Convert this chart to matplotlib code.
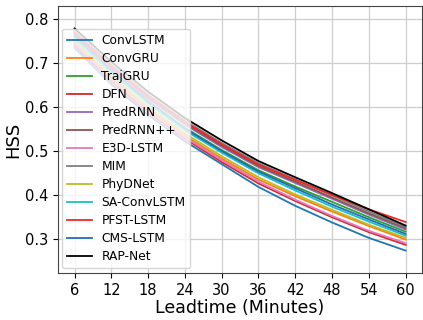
import matplotlib
matplotlib.use("Agg")
from matplotlib import pyplot as plt

leadtime = [6, 12, 18, 24, 30, 36, 42, 48, 54, 60]

models = ["ConvLSTM", "ConvGRU", "TrajGRU", "DFN", "PredRNN", "PredRNN++",
          "E3D-LSTM", "MIM", "PhyDNet", "SA-ConvLSTM", "PFST-LSTM",
          "CMS-LSTM", "RAP-Net"]

conv_lstm = [0.735, 0.652, 0.582, 0.522, 0.470, 0.418, 0.375, 0.337, 0.302, 0.273]
conv_gru = [0.748, 0.667, 0.596, 0.535, 0.483, 0.435, 0.397, 0.362, 0.329, 0.298]
traj_gru = [0.760, 0.682, 0.613, 0.553, 0.502, 0.456, 0.419, 0.384, 0.349, 0.316]
dfn = [0.741, 0.659, 0.588, 0.528, 0.475, 0.426, 0.386, 0.349, 0.315, 0.286]
pred_rnn = [0.765, 0.688, 0.619, 0.560, 0.509, 0.463, 0.427, 0.391, 0.355, 0.321]
pred_rnn_pp = [0.768, 0.691, 0.622, 0.563, 0.512, 0.466, 0.430, 0.394, 0.358, 0.324]
e3d_lstm = [0.745, 0.663, 0.592, 0.531, 0.479, 0.430, 0.389, 0.352, 0.318, 0.290]
mim = [0.772, 0.696, 0.628, 0.569, 0.518, 0.472, 0.435, 0.399, 0.362, 0.327]
phydnet = [0.752, 0.672, 0.601, 0.540, 0.488, 0.440, 0.401, 0.366, 0.332, 0.302]
sa_conv_lstm = [0.757, 0.678, 0.608, 0.547, 0.496, 0.449, 0.410, 0.373, 0.339, 0.307]
pfst_lstm = [0.770, 0.693, 0.625, 0.566, 0.515, 0.469, 0.434, 0.400, 0.367, 0.338]
cms_lstm = [0.762, 0.684, 0.613, 0.551, 0.500, 0.453, 0.415, 0.378, 0.344, 0.311]
rap_net = [0.779, 0.703, 0.635, 0.575, 0.524, 0.477, 0.440, 0.404, 0.367, 0.330]

scores = [conv_lstm, conv_gru, traj_gru, dfn, pred_rnn, pred_rnn_pp, e3d_lstm,
          mim, phydnet, sa_conv_lstm, pfst_lstm, cms_lstm, rap_net]
colors = ["C0", "C1", "C2", "C3", "C4", "C5", "C6", "C7", "C8", "C9",
          "#f0262b", "#1f6fb4", "black"]

fig = plt.figure(figsize=(4.23, 3.2), dpi=100)
ax = fig.add_axes([0.137, 0.147, 0.861, 0.834])

for name, vals, col in zip(models, scores, colors):
    ax.plot(leadtime, vals, color=col, linewidth=1.3, label=name)

ax.set_xticks(leadtime)
ax.set_yticks([0.3, 0.4, 0.5, 0.6, 0.7, 0.8])
ax.set_xlim(3.3, 62.7)
ax.set_ylim(0.222, 0.83)
ax.tick_params(labelsize=10.5)
ax.grid(True, color="#cfcfcf", linewidth=0.9)
ax.set_xlabel("Leadtime (Minutes)", fontsize=12.5, labelpad=1)
ax.set_ylabel("HSS", fontsize=13, labelpad=2)
for s in ax.spines.values():
    s.set_color("#444444")

ax.legend(loc="upper left", fontsize=8.8, bbox_to_anchor=(0.0, 0.93),
          labelspacing=0.41, borderaxespad=0.35, handlelength=2.0)

fig.savefig("out.png", dpi=100)
